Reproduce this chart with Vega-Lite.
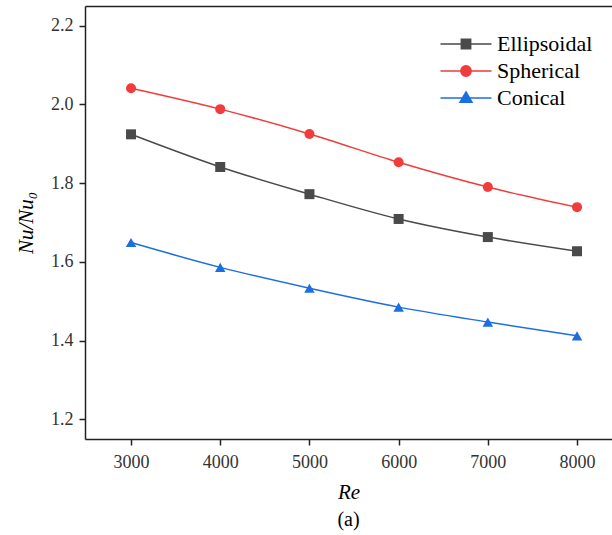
{
  "$schema": "https://vega.github.io/schema/vega-lite/v6.json",
  "width": 527,
  "height": 433,
  "autosize": "none",
  "padding": {"left": 85, "top": 6, "right": 0, "bottom": 96},
  "background": "white",
  "title": {"text": "(a)", "orient": "bottom", "font": "Liberation Serif", "fontSize": 20, "fontWeight": "normal", "color": "black", "offset": 8},
  "config": {
    "view": {"stroke": null},
    "axis": {"grid": false, "domainColor": "#222", "domainWidth": 1.5, "tickColor": "#222", "tickWidth": 1.5, "tickSize": 6,
      "labelFont": "Liberation Serif", "labelFontSize": 18, "labelColor": "#333", "titleFont": "Liberation Serif", "titleFontSize": 21, "titleFontStyle": "italic", "titleFontWeight": "normal", "titleColor": "black"}
  },
  "data": {"values": [
    {"Re": 3000, "series": "Ellipsoidal", "v": 1.924},
    {"Re": 4000, "series": "Ellipsoidal", "v": 1.841},
    {"Re": 5000, "series": "Ellipsoidal", "v": 1.772},
    {"Re": 6000, "series": "Ellipsoidal", "v": 1.709},
    {"Re": 7000, "series": "Ellipsoidal", "v": 1.663},
    {"Re": 8000, "series": "Ellipsoidal", "v": 1.627},
    {"Re": 3000, "series": "Spherical", "v": 2.041},
    {"Re": 4000, "series": "Spherical", "v": 1.988},
    {"Re": 5000, "series": "Spherical", "v": 1.925},
    {"Re": 6000, "series": "Spherical", "v": 1.853},
    {"Re": 7000, "series": "Spherical", "v": 1.79},
    {"Re": 8000, "series": "Spherical", "v": 1.739},
    {"Re": 3000, "series": "Conical", "v": 1.649},
    {"Re": 4000, "series": "Conical", "v": 1.586},
    {"Re": 5000, "series": "Conical", "v": 1.533},
    {"Re": 6000, "series": "Conical", "v": 1.485},
    {"Re": 7000, "series": "Conical", "v": 1.447},
    {"Re": 8000, "series": "Conical", "v": 1.412}
  ]},
  "layer": [
    {
      "mark": {"type": "line", "interpolate": "monotone", "strokeWidth": 1.5},
      "encoding": {
        "x": {"field": "Re", "type": "quantitative", "scale": {"domain": [2484, 8392], "nice": false, "zero": false},
          "axis": {"values": [3000, 4000, 5000, 6000, 7000, 8000], "title": "Re", "labelPadding": 8, "titlePadding": 10, "format": "d"}},
        "y": {"field": "v", "type": "quantitative", "scale": {"domain": [1.15, 2.25], "nice": false, "zero": false},
          "axis": {"values": [1.2, 1.4, 1.6, 1.8, 2.0, 2.2], "format": ".1f", "title": "Nu/Nu₀", "labelPadding": 6, "titlePadding": 14}},
        "color": {"field": "series", "type": "nominal",
          "scale": {"domain": ["Ellipsoidal", "Spherical", "Conical"], "range": ["#4a4a4a", "#f03c3c", "#1c6fe0"]},
          "legend": {"title": null, "orient": "none", "legendX": 368, "legendY": 25, "padding": 0,
            "labelFont": "Liberation Serif", "labelFontSize": 22, "labelColor": "black", "labelOffset": 18, "rowPadding": 3,
            "symbolStrokeWidth": 1.5,
            "encode": {"symbols": {"update": {
              "shape": {"signal": "datum.value === 'Ellipsoidal' ? 'M-2.125,0H2.125M-0.39,-0.39H0.39V0.39H-0.39Z' : datum.value === 'Spherical' ? 'M-2.125,0H2.125M-0.43,0A0.43,0.43 0 1,0 0.43,0A0.43,0.43 0 1,0 -0.43,0Z' : 'M-2.125,0H2.125M0,-0.5L0.5,0.35H-0.5Z'"},
              "size": {"value": 576},
              "fill": {"scale": "color", "field": "value"},
              "stroke": {"scale": "color", "field": "value"},
              "strokeWidth": {"value": 1.5},
              "opacity": {"value": 1}
            }}}}}
      }
    },
    {
      "transform": [{"filter": "datum.series === 'Ellipsoidal'"}],
      "mark": {"type": "point", "filled": true, "opacity": 1, "size": 100, "shape": "square"},
      "encoding": {
        "x": {"field": "Re", "type": "quantitative", "axis": {"orient": "top", "labels": false, "ticks": false, "title": null}},
        "y": {"field": "v", "type": "quantitative"},
        "color": {"field": "series", "type": "nominal"}
      }
    },
    {
      "transform": [{"filter": "datum.series === 'Spherical'"}],
      "mark": {"type": "point", "filled": true, "opacity": 1, "size": 100, "shape": "circle"},
      "encoding": {
        "x": {"field": "Re", "type": "quantitative", "axis": null},
        "y": {"field": "v", "type": "quantitative"},
        "color": {"field": "series", "type": "nominal"}
      }
    },
    {
      "transform": [{"filter": "datum.series === 'Conical'"}],
      "mark": {"type": "point", "filled": true, "opacity": 1, "size": 110, "shape": "triangle-up"},
      "encoding": {
        "x": {"field": "Re", "type": "quantitative", "axis": null},
        "y": {"field": "v", "type": "quantitative"},
        "color": {"field": "series", "type": "nominal"}
      }
    }
  ],
  "resolve": {"axis": {"x": "independent"}}
}
